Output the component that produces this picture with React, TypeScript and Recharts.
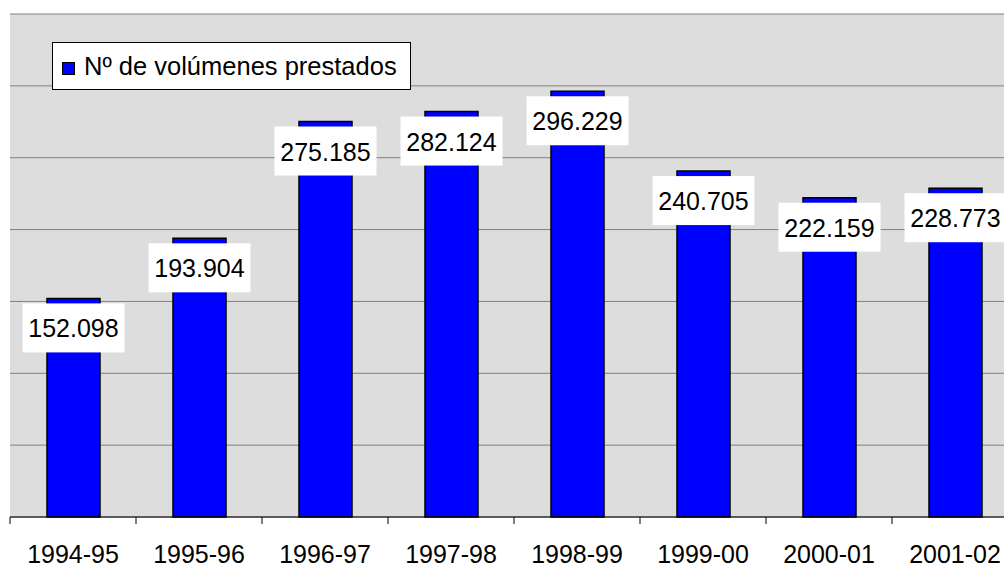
import { BarChart, Bar, XAxis, YAxis, CartesianGrid, LabelList, Legend } from "recharts";

const seasons = ["1994-95", "1995-96", "1996-97", "1997-98", "1998-99", "1999-00", "2000-01", "2001-02"];
const volumes = [152098, 193904, 275185, 282124, 296229, 240705, 222159, 228773];
const yTicks = [0, 50000, 100000, 150000, 200000, 250000, 300000, 350000];

const data = seasons.map((season, i) => ({ season, volumes: volumes[i] }));

const FONT = "Arial, 'Liberation Sans', sans-serif";

const fmt = (v: number) => v.toLocaleString("de-DE");

const NoTick = () => <g />;

// category label plus tick marks on the band edges (Excel style)
const SeasonTick = (props: any) => {
  const { x, y, payload, index, visibleTicksCount } = props;
  const off = payload.offset || 0;
  const last = index === (visibleTicksCount ?? seasons.length) - 1;
  return (
    <g>
      <line x1={x - off} x2={x - off} y1={y} y2={y + 7} stroke="#000" />
      {last && <line x1={x + off} x2={x + off} y1={y} y2={y + 7} stroke="#000" />}
      <text x={x} y={y + 46} textAnchor="middle" fontSize={25} fontFamily={FONT} fill="#000">
        {payload.value}
      </text>
    </g>
  );
};

const ValueLabel = (props: any) => {
  const { x, y, width, value } = props;
  const cx = x + width / 2;
  const boxW = 102;
  const boxH = 49;
  return (
    <g>
      <rect x={cx - boxW / 2} y={y + 5} width={boxW} height={boxH} fill="#ffffff" />
      <text
        x={cx}
        y={y + 30}
        textAnchor="middle"
        dominantBaseline="central"
        fontSize={25}
        fontFamily={FONT}
        fill="#000"
      >
        {fmt(value)}
      </text>
    </g>
  );
};

const LegendBox = () => (
  <div
    style={{
      position: "absolute",
      left: 52,
      top: 42,
      width: 357,
      height: 46,
      background: "#fff",
      border: "1px solid #000",
      fontFamily: FONT,
      fontSize: 25.5,
      display: "flex",
      alignItems: "center",
      boxSizing: "content-box",
      whiteSpace: "nowrap",
    }}
  >
    <span
      style={{
        display: "inline-block",
        width: 11,
        height: 11,
        background: "#0000ff",
        border: "1px solid #000",
        marginLeft: 9,
        marginRight: 9,
        marginTop: 4,
      }}
    />
    <span>Nº de volúmenes prestados</span>
  </div>
);

export default function App() {
  return (
    <div
      style={{
        position: "absolute",
        left: 0,
        top: 0,
        width: 1004,
        height: 567,
        overflow: "hidden",
        background: "#fff",
      }}
    >
      <BarChart
        width={1030}
        height={567}
        data={data}
        margin={{ top: 14, right: 12, bottom: 0, left: 10 }}
        barCategoryGap={0}
      >
        <CartesianGrid vertical={false} stroke="#808080" fill="#dddddd" fillOpacity={1} />
        <YAxis
          width={0}
          domain={[0, 350000]}
          ticks={yTicks}
          tick={NoTick}
          tickLine={false}
          axisLine={{ stroke: "#808080" }}
        />
        <XAxis
          dataKey="season"
          height={50}
          axisLine={{ stroke: "#000" }}
          tickLine={false}
          tickSize={0}
          tickMargin={0}
          tick={SeasonTick}
          interval={0}
        />
        <Legend content={() => <LegendBox />} wrapperStyle={{ position: "absolute", left: 0, top: 0, width: 0, height: 0 }} />
        <Bar dataKey="volumes" fill="#0000ff" stroke="#000" strokeWidth={1.5} barSize={53} isAnimationActive={false}>
          <LabelList dataKey="volumes" content={ValueLabel} />
        </Bar>
      </BarChart>
    </div>
  );
}
